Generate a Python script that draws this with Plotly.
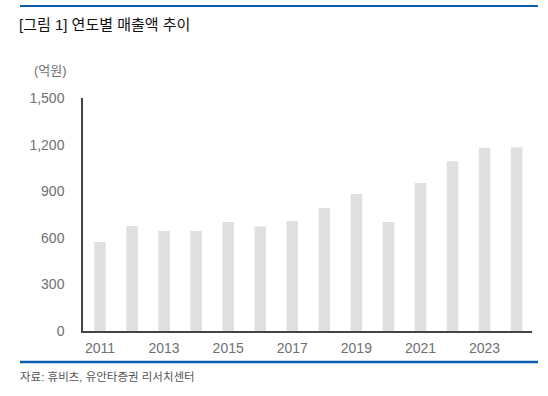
import plotly.graph_objects as go

years = [2011, 2012, 2013, 2014, 2015, 2016, 2017, 2018, 2019, 2020, 2021, 2022, 2023, 2024]
sales = [573, 676, 644, 644, 702, 672, 708, 792, 882, 702, 953, 1093, 1180, 1183]
x_ticks = [2011, 2013, 2015, 2017, 2019, 2021, 2023]
y_ticks = [0, 300, 600, 900, 1200, 1500]
y_tick_labels = ["0", "300", "600", "900", "1,200", "1,500"]

title_text = "[그림 1] 연도별 매출액 추이"
unit_text = "(억원)"
source_text = "자료: 휴비츠, 유안타증권 리서치센터"

FONT = "Liberation Sans, Noto Sans CJK KR, sans-serif"
BLUE = "#0b5cad"

fig = go.Figure()
fig.add_trace(go.Bar(x=years, y=sales, marker_color="#e0e0e0", marker_line_width=0, width=0.36,
                     hoverinfo="skip"))

fig.update_layout(
    width=548, height=396,
    margin=dict(l=83, r=16, t=98, b=65),
    paper_bgcolor="white", plot_bgcolor="white",
    showlegend=False,
    font=dict(family=FONT, color="#707070", size=14),
    xaxis=dict(range=[2010.47, 2024.48], tickvals=x_ticks, ticktext=[str(v) for v in x_ticks],
               showgrid=False, zeroline=False, showline=True, linecolor="#444", linewidth=1.5,
               ticks="", ticklabelstandoff=3, tickfont=dict(size=14, color="#707070")),
    yaxis=dict(range=[0, 1500], tickvals=y_ticks, ticktext=y_tick_labels,
               showgrid=False, zeroline=False, showline=True, linecolor="#444", linewidth=1.5,
               ticks="", ticklabelstandoff=14, tickfont=dict(size=14, color="#707070")),
    shapes=[
        dict(type="line", xref="paper", yref="paper", x0=-63/449, x1=455/449, y0=(396-6-65)/233, y1=(396-6-65)/233,
             line=dict(color=BLUE, width=2)),
        dict(type="line", xref="paper", yref="paper", x0=-63/449, x1=455/449, y0=-(362-331)/233, y1=-(362-331)/233,
             line=dict(color=BLUE, width=2.5)),
    ],
    annotations=[
        dict(text=title_text, xref="paper", yref="paper", x=-66/449, y=(331-24)/233,
             xanchor="left", yanchor="middle", showarrow=False,
             font=dict(family=FONT, size=15, color="#111")),
        dict(text=unit_text, xref="paper", yref="paper", x=-33/449, y=(331-70)/233,
             xanchor="center", yanchor="middle", showarrow=False,
             font=dict(family=FONT, size=13, color="#707070")),
        dict(text=source_text, xref="paper", yref="paper", x=-65/449, y=-(377-331)/233,
             xanchor="left", yanchor="middle", showarrow=False,
             font=dict(family=FONT, size=11.5, color="#555")),
    ],
)

fig.write_html("out.html", config={"displayModeBar": False},
               post_script="document.body.style.margin='0';")
